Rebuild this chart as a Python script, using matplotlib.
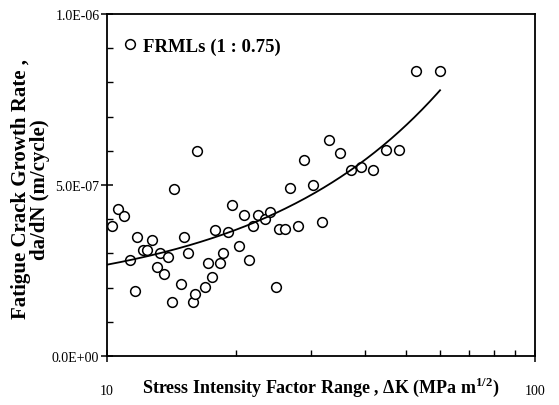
import numpy as np
import matplotlib
matplotlib.use('Agg')
import matplotlib.pyplot as plt
from matplotlib.ticker import FixedLocator, FuncFormatter, NullFormatter

plt.rcParams['font.family'] = ['Liberation Serif', 'DejaVu Serif']
plt.rcParams['mathtext.fontset'] = 'custom'
plt.rcParams['mathtext.rm'] = 'Liberation Serif:bold'
plt.rcParams['mathtext.bf'] = 'Liberation Serif:bold'

# stress intensity factor range (MPa m^1/2) and crack growth rate (m/cycle)
delta_k = [10.26, 10.59, 10.96, 11.33, 11.63, 11.78, 12.14, 12.40, 12.72, 13.06,
           13.30, 13.60, 13.91, 14.16, 14.34, 14.86, 15.11, 15.49, 15.86, 16.06,
           16.21, 16.94, 17.22, 17.62, 17.91, 18.37, 18.66, 19.14, 19.59, 20.31,
           20.86, 21.49, 21.90, 22.59, 23.39, 24.08, 24.87, 25.27, 26.06, 26.81,
           27.99, 28.91, 30.34, 31.75, 32.96, 34.98, 37.22, 39.28, 41.91, 44.82,
           48.17, 52.68, 59.88]
dadn = [0.381, 0.430, 0.410, 0.281, 0.191, 0.349, 0.310, 0.310, 0.339, 0.260,
        0.301, 0.240, 0.289, 0.159, 0.488, 0.210, 0.349, 0.300, 0.159, 0.181,
        0.600, 0.201, 0.271, 0.231, 0.369, 0.272, 0.300, 0.362, 0.442, 0.323,
        0.411, 0.282, 0.379, 0.412, 0.401, 0.422, 0.201, 0.371, 0.371, 0.491,
        0.381, 0.572, 0.501, 0.391, 0.632, 0.593, 0.544, 0.552, 0.544, 0.601,
        0.601, 0.833, 0.833]
dadn = [v * 1e-6 for v in dadn]

# linear trend line: rate = a + b * dK
trend_a = 1.65e-7
trend_b = 1.02e-8
trend_range = (10, 60)

fig = plt.figure(figsize=(5.59, 4.06), dpi=100)
ax = fig.add_axes([107 / 559, 1 - 357 / 406, 428 / 559, 342 / 406])

ax.plot(delta_k, dadn, linestyle='none', marker='o', markersize=7,
        markerfacecolor='white', markeredgecolor='black', markeredgewidth=1.1,
        label='FRMLs (1 : 0.75)')

kk = np.linspace(trend_range[0], trend_range[1], 200)
ax.plot(kk, trend_a + trend_b * kk, color='black', linewidth=1.3)

ax.set_xscale('log')
ax.set_xlim(10, 100)
ax.set_ylim(0, 1e-6)

ax.yaxis.set_major_locator(FixedLocator([0, 5e-7, 1e-6]))
ax.yaxis.set_minor_locator(FixedLocator(np.arange(1, 10) * 1e-7))
ax.yaxis.set_major_formatter(FuncFormatter(lambda v, p: '%.1E' % v))
ax.xaxis.set_major_locator(FixedLocator([10, 100]))
ax.xaxis.set_minor_locator(FixedLocator(range(20, 100, 10)))
ax.xaxis.set_major_formatter(FuncFormatter(lambda v, p: '%d' % v))
ax.xaxis.set_minor_formatter(NullFormatter())

ax.tick_params(axis='y', which='major', direction='inout', length=9, width=1.1,
               labelsize=10, pad=1)
ax.tick_params(axis='y', which='minor', direction='in', length=4, width=1.0)
ax.tick_params(axis='x', which='major', direction='inout', length=8, width=1.1,
               labelsize=10, pad=16)
ax.tick_params(axis='x', which='minor', direction='in', length=4, width=1.0)

for s in ax.spines.values():
    s.set_linewidth(1.3)

ax.set_xlabel(r'Stress Intensity Factor Range , $\Delta$K (MPa m$^{1/2}$)',
              fontsize=13, fontweight='bold', va='center')
ax.xaxis.set_label_coords(0.5, -0.09)
ax.set_ylabel('Fatigue Crack Growth Rate ,\nda/dN (m/cycle)', fontsize=15,
              fontweight='bold', linespacing=0.95, va='center', ha='center')
ax.yaxis.set_label_coords(-0.178, 0.49)

ax.legend(loc='upper left', frameon=False, prop={'size': 13.5, 'weight': 'bold'},
          handletextpad=0.2, borderaxespad=0.3, handlelength=1.0,
          bbox_to_anchor=(0.0, 0.97))

fig.savefig('out.png', dpi=100)
